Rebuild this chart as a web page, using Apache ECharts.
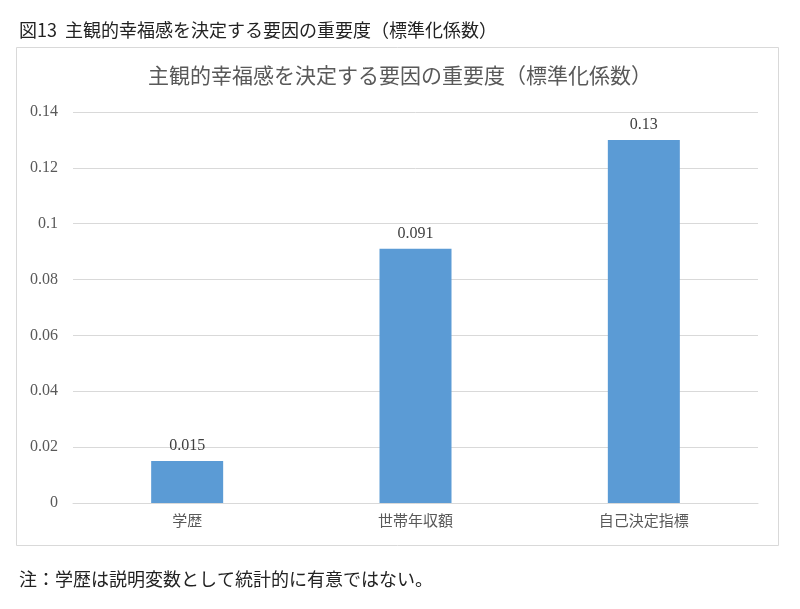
<!DOCTYPE html>
<html>
<head>
<meta charset="utf-8">
<script src="https://cdn.jsdelivr.net/npm/echarts@6/dist/echarts.min.js"></script>
<style>
    html, body { margin: 0; padding: 0; background: #fff; }
    #main { width: 800px; height: 609px; }
</style>
</head>
<body>
<div id="main"></div>
<script>
var categories = ['学歴', '世帯年収額', '自己決定指標'];
var values = [0.015, 0.091, 0.13];
var labels = ['0.015', '0.091', '0.13'];

var jpFont = '"Noto Sans CJK JP", sans-serif';
var numFont = '"Liberation Serif", "DejaVu Serif", serif';

var chart = echarts.init(document.getElementById('main'));
chart.setOption({
    backgroundColor: '#fff',
    animation: false,
    title: [
        {
            text: '図13  主観的幸福感を決定する要因の重要度（標準化係数）',
            left: 14, top: 16,
            textStyle: { fontFamily: jpFont, fontSize: 18, fontWeight: 'normal', color: '#222' }
        },
        {
            text: '主観的幸福感を決定する要因の重要度（標準化係数）',
            left: 'center', top: 60,
            textStyle: { fontFamily: jpFont, fontSize: 21, fontWeight: 'normal', color: '#595959' }
        },
        {
            text: '注：学歴は説明変数として統計的に有意ではない。',
            left: 14, top: 565,
            textStyle: { fontFamily: jpFont, fontSize: 18, fontWeight: 'normal', color: '#222' }
        }
    ],
    graphic: [
        {
            type: 'rect',
            shape: { x: 16.5, y: 47.5, width: 762, height: 498 },
            style: { fill: 'none', stroke: '#d9d9d9', lineWidth: 1 },
            z: -1
        }
    ],
    grid: { left: 73, right: 42, top: 112, bottom: 106 },
    xAxis: {
        type: 'category',
        data: categories,
        axisTick: { show: false },
        axisLine: { lineStyle: { color: '#d9d9d9', width: 1 } },
        axisLabel: { fontFamily: jpFont, fontSize: 15, color: '#595959', margin: 10 }
    },
    yAxis: {
        type: 'value',
        min: 0, max: 0.14, interval: 0.02,
        axisLine: { show: false },
        axisTick: { show: false },
        splitLine: { lineStyle: { color: '#d9d9d9', width: 1 } },
        axisLabel: {
            fontFamily: numFont, fontSize: 16, color: '#595959', margin: 15,
            formatter: function (v) { return String(+v.toFixed(2)); }
        }
    },
    series: [{
        type: 'bar',
        data: values,
        barWidth: 72,
        itemStyle: { color: '#5b9bd5' },
        label: {
            show: true, position: 'top', distance: 7,
            fontFamily: numFont, fontSize: 16, color: '#404040',
            formatter: function (p) { return labels[p.dataIndex]; }
        }
    }]
});
</script>
</body>
</html>
